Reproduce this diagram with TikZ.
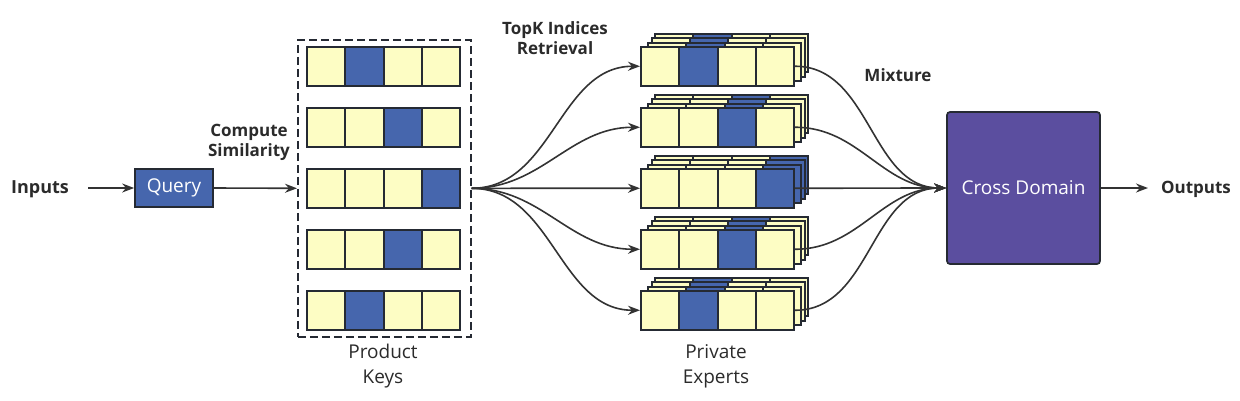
\documentclass[tikz,border=0pt]{standalone}
\usepackage{fontspec}
\setmainfont{Open Sans}
\usetikzlibrary{arrows.meta}
\definecolor{cellY}{HTML}{FDFDC4}
\definecolor{cellB}{HTML}{4666AD}
\definecolor{edge}{HTML}{252A33}
\definecolor{lnc}{HTML}{333333}
\definecolor{txt}{HTML}{2B2B2B}
\definecolor{purp}{HTML}{5B4E9F}
\tikzset{
  cell/.style={draw=edge, line width=2pt, minimum width=38.3pt, minimum height=38.5pt, inner sep=0pt, anchor=north west},
  arr/.style={draw=lnc, line width=1.6pt, -{Stealth[length=12pt,width=9pt]}},
  blbl/.style={font=\bfseries\fontsize{17}{20}\selectfont, text=txt, align=center},
  nlbl/.style={font=\fontsize{19}{25}\selectfont, text=txt, align=center},
}
\begin{document}
\begin{tikzpicture}[x=1pt,y=-1pt]
\useasboundingbox (0,0) rectangle (1240,400);
% inputs and query
\node[blbl, font=\bfseries\fontsize{18}{20}\selectfont] (inp) at (40,189) {Inputs};
\coordinate (inend) at (88,188);
\node[draw=edge, line width=1.7pt, fill=cellB, minimum width=78pt, minimum height=38pt, inner sep=0pt, text=white, font=\fontsize{19}{22}\selectfont] (q) at (174,188) {Query};
\draw[arr] (inend) -- (q.west);
% product keys
\node[draw=edge, line width=1.6pt, dash pattern=on 8pt off 4pt, minimum width=173pt, minimum height=297pt, inner sep=0pt, anchor=north west] (keys) at (297,39) {};
\draw[arr] (q.east) -- (keys.west);
\foreach \r/\b in {1/2,2/3,3/4,4/3,5/2} {
  \foreach \c in {1,...,4} {
    \pgfmathsetmacro\xx{306+38.25*(\c-1)}
    \pgfmathsetmacro\yy{46+61*(\r-1)}
    \ifnum\c=\b\def\cf{cellB}\else\def\cf{cellY}\fi
    \node[cell, fill=\cf] (k\r-\c) at (\xx,\yy) {};
  }
}
\node[blbl] (cs) at (249,142) {Compute\\Similarity};
\node[nlbl] (pk) at (383,366) {Product\\Keys};
% private experts
\foreach \r/\b in {1/2,2/3,3/4,4/3,5/2} {
  \foreach \l/\dx/\dy in {3/14/-13.5,2/10.5/-9,1/7/-4.5,0/0/0} {
    \foreach \c in {1,...,4} {
      \pgfmathsetmacro\xx{640+38.3*(\c-1)+\dx}
      \pgfmathsetmacro\yy{46+61*(\r-1)+\dy}
      \ifnum\c=\b\def\cf{cellB}\else\def\cf{cellY}\fi
      \node[cell, fill=\cf] (e\r-\l-\c) at (\xx,\yy) {};
    }
  }
}
\node[blbl] (topk) at (555,38) {TopK Indices\\Retrieval};
\node[nlbl] (pe) at (716,366) {Private\\Experts};
% cross domain
\node[draw=edge, line width=1.7pt, fill=purp, rounded corners=3pt, minimum width=153pt, minimum height=152pt, inner sep=0pt, text=white, font=\fontsize{19}{22}\selectfont] (cd) at (1023.5,188) {Cross Domain};
\node[blbl] (mix) at (898,75) {Mixture};
\foreach \r in {1,...,5} {
  \draw[arr] (keys.east) to[out=0,in=180] (e\r-0-1.west);
  \draw[arr] (e\r-0-4.east) to[out=0,in=180] (cd.west);
}
% outputs
\node[blbl] (outp) at (1196,189) {Outputs};
\coordinate (outend) at (1148,188);
\draw[arr] (cd.east) -- (outend);
\end{tikzpicture}
\end{document}
